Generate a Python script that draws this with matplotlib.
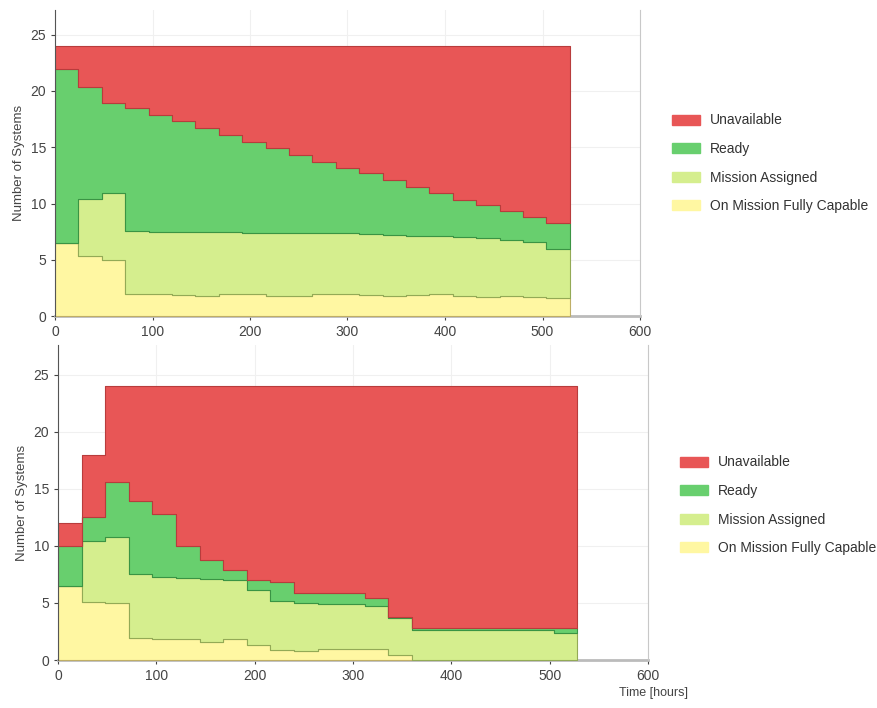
import numpy as np
import matplotlib
matplotlib.use("Agg")
import matplotlib.pyplot as plt
from matplotlib.patches import Patch

plt.rcParams['font.family'] = ['Liberation Sans', 'DejaVu Sans']

# ---- data ----
step_start_hours = [0, 24, 48, 72, 96, 120, 144, 168, 192, 216, 240, 264,
                    288, 312, 336, 360, 384, 408, 432, 456, 480, 504]
end_hour = 528

categories = ["On Mission Fully Capable", "Mission Assigned", "Ready", "Unavailable"]

# Top chart
on_mission_a = [6.5, 5.3, 5.0, 2.0, 2.0, 1.9, 1.8, 2.0, 2.0, 1.8, 1.8, 2.0,
                2.0, 1.9, 1.8, 1.9, 2.0, 1.8, 1.7, 1.8, 1.7, 1.6]
mission_a = [0.0, 5.1, 5.9, 5.6, 5.5, 5.6, 5.7, 5.5, 5.4, 5.6, 5.6, 5.4,
             5.4, 5.4, 5.4, 5.2, 5.1, 5.2, 5.2, 5.0, 4.9, 4.4]
ready_a = [15.5, 10.0, 8.0, 10.9, 10.4, 9.8, 9.2, 8.6, 8.1, 7.5, 6.9, 6.3,
           5.8, 5.4, 4.9, 4.4, 3.8, 3.3, 3.0, 2.5, 2.2, 2.25]
unavail_a = [2.0, 3.6, 5.1, 5.5, 6.1, 6.7, 7.3, 7.9, 8.5, 9.1, 9.7, 10.3,
             10.8, 11.3, 11.9, 12.5, 13.1, 13.7, 14.1, 14.7, 15.2, 15.75]

# Bottom chart
on_mission_b = [6.5, 5.1, 5.0, 1.9, 1.85, 1.8, 1.6, 1.8, 1.35, 0.85, 0.8, 1.0,
                1.0, 1.0, 0.4, 0.0, 0.0, 0.0, 0.0, 0.0, 0.0, 0.0]
mission_b = [0.0, 5.3, 5.8, 5.6, 5.45, 5.4, 5.5, 5.2, 4.75, 4.35, 4.2, 3.9,
             3.9, 3.7, 3.3, 2.6, 2.6, 2.6, 2.6, 2.6, 2.6, 2.4]
ready_b = [3.5, 2.1, 4.8, 6.4, 5.5, 2.8, 1.7, 0.9, 0.9, 1.6, 0.9, 1.0,
           1.0, 0.7, 0.1, 0.2, 0.2, 0.2, 0.2, 0.2, 0.2, 0.4]
unavail_b = [2.0, 5.5, 8.4, 10.1, 11.2, 14.0, 15.2, 16.1, 17.0, 17.2, 18.1, 18.1,
             18.1, 18.6, 20.2, 21.2, 21.2, 21.2, 21.2, 21.2, 21.2, 21.2]

x_ticks = [0, 100, 200, 300, 400, 500, 600]
y_ticks = [0, 5, 10, 15, 20, 25]

fill_colors = ["#FFF7A2", "#D5EE8E", "#68CF6E", "#E85656"]
edge_colors = ["#BFAE66", "#93AA56", "#3A9444", "#B83C3C"]

fig = plt.figure(figsize=(8.78, 7.08), dpi=100)
ax1 = fig.add_axes([55/878, 1-316/708, 585/878, 306/708])
ax2 = fig.add_axes([58/878, 1-660/708, 590/878, 315/708])

x_edges = step_start_hours + [end_hour]


def draw(ax, series, ytop):
    ext = [list(s) + [s[-1]] for s in series]
    polys = ax.stackplot(x_edges, *ext, step='post', colors=fill_colors,
                         linewidth=0.8, zorder=3)
    for p, ec in zip(polys, edge_colors):
        p.set_edgecolor(ec)
    ax.set_xlim(0, 600)
    ax.set_ylim(0, ytop)
    ax.set_xticks(x_ticks)
    ax.set_yticks(y_ticks)
    ax.grid(True, color="#f0f0f0", linewidth=0.8, zorder=0)
    ax.set_axisbelow(True)
    ax.spines['top'].set_visible(False)
    ax.spines['right'].set_color("#c8c8c8")
    ax.spines['left'].set_color("#555555")
    ax.spines['left'].set_zorder(4)
    ax.spines['bottom'].set_color("#bbbbbb")
    ax.spines['bottom'].set_linewidth(2.0)
    ax.spines['bottom'].set_zorder(1)
    ax.tick_params(labelsize=10, colors="#444444", length=3, width=0.8)
    ax.set_ylabel("Number of Systems", fontsize=9.5, color="#444444", labelpad=4)
    handles = [Patch(facecolor=c, edgecolor=c) for c in fill_colors[::-1]]
    return handles


h = draw(ax1, [on_mission_a, mission_a, ready_a, unavail_a], 27.2)
draw(ax2, [on_mission_b, mission_b, ready_b, unavail_b], 27.6)

leg_kw = dict(frameon=False, fontsize=10, handlelength=2.0, handleheight=0.75,
              labelspacing=1.05, handletextpad=0.7, labelcolor="#333333")
fig.legend(h, categories[::-1], loc='upper left',
           bbox_to_anchor=(660/878, 1-101/708), **leg_kw)
fig.legend(h, categories[::-1], loc='upper left',
           bbox_to_anchor=(668/878, 1-443/708), **leg_kw)

ax2.set_xlabel("Time [hours]", fontsize=9, color="#444444")
ax2.xaxis.set_label_coords(1.01, -0.085)

fig.savefig("out.png", dpi=100)
